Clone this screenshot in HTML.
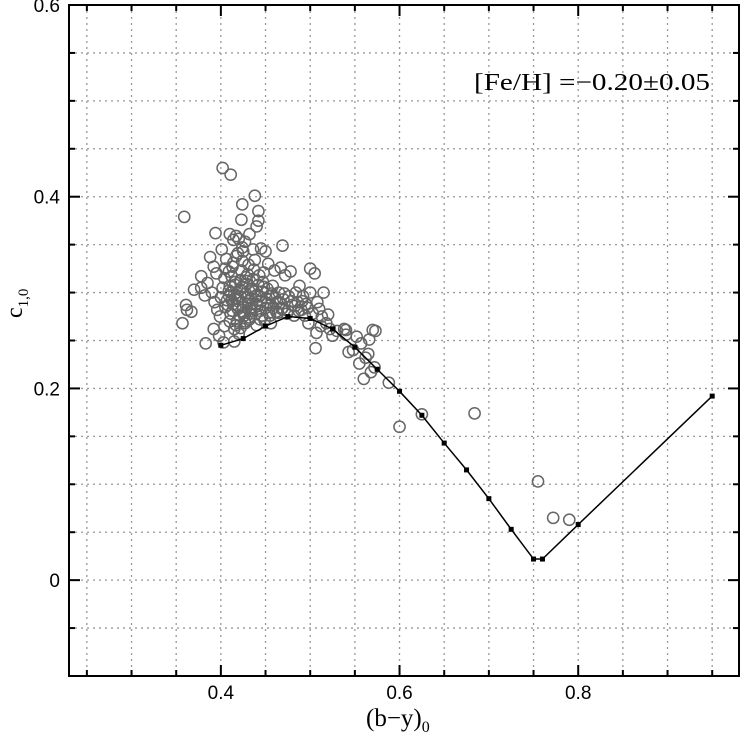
<!DOCTYPE html>
<html><head><meta charset="utf-8"><style>
body{margin:0;background:#fff;width:740px;height:736px;overflow:hidden}
svg{display:block}
text{font-family:"Liberation Sans",sans-serif;fill:#000}
</style></head><body>
<svg id="chart" width="740" height="736" viewBox="0 0 740 736">
<g id="grid"></g>
<g id="marks"></g>
<g id="axes"></g>
<text x="474" y="90" textLength="236" lengthAdjust="spacingAndGlyphs" style="font-family:'Liberation Serif',serif;font-size:24px">[Fe/H] =−0.20±0.05</text>
<text x="366" y="726" style="font-family:'Liberation Serif',serif;font-size:25px">(b−y)<tspan dy="6" font-size="16">0</tspan></text>
<text transform="translate(22,318) rotate(-90)" style="font-family:'Liberation Serif',serif;font-size:24px">c<tspan dy="6" font-size="15">1,0</tspan></text>
</svg>
<script>
const xTicks=[0.4,0.6,0.8];
const yTicks=[0,0.2,0.4,0.6];
const xTickLabels=["0.4","0.6","0.8"];
const yTickLabels=["0","0.2","0.4","0.6"];
const seqX=[0.4,0.425,0.45,0.475,0.5,0.525,0.55,0.575,0.6,0.625,0.65,0.675,0.7,0.725,0.75,0.76,0.8,0.95];
const seqY=[0.245,0.252,0.265,0.275,0.273,0.262,0.243,0.220,0.197,0.172,0.143,0.115,0.085,0.053,0.022,0.022,0.058,0.192];
const starX=[0.402,0.411,0.359,0.438,0.424,0.442,0.423,0.442,0.440,0.394,0.410,0.417,0.420,0.414,0.432,0.469,0.427,0.436,0.445,0.450,0.401,0.388,0.392,0.395,0.378,0.370,0.382,0.361,0.362,0.367,0.357,0.383,0.392,0.398,0.403,0.415,0.420,0.378,0.385,0.390,0.393,0.396,0.399,0.400,0.402,0.404,0.405,0.406,0.408,0.409,0.410,0.411,0.412,0.413,0.414,0.415,0.416,0.417,0.418,0.419,0.420,0.421,0.422,0.423,0.424,0.425,0.426,0.427,0.428,0.429,0.430,0.431,0.432,0.433,0.434,0.435,0.436,0.437,0.438,0.439,0.440,0.441,0.442,0.443,0.444,0.445,0.446,0.447,0.448,0.449,0.450,0.451,0.452,0.453,0.455,0.456,0.457,0.458,0.460,0.462,0.463,0.465,0.467,0.468,0.470,0.472,0.474,0.476,0.478,0.480,0.482,0.484,0.486,0.488,0.490,0.492,0.495,0.498,0.500,0.500,0.503,0.505,0.506,0.507,0.508,0.510,0.512,0.513,0.515,0.518,0.520,0.522,0.525,0.530,0.538,0.540,0.543,0.548,0.552,0.555,0.557,0.560,0.562,0.565,0.566,0.568,0.570,0.572,0.588,0.600,0.625,0.684,0.755,0.772,0.790,0.405,0.412,0.418,0.425,0.430,0.435,0.421,0.427,0.433,0.444,0.410,0.404,0.415,0.440,0.456,0.573,0.540,
0.407,0.409,0.413,0.416,0.419,0.422,0.424,0.426,0.428,0.431,0.434,0.437,0.441,0.443,0.446,0.448,0.452,0.454,0.457,0.459,0.461,0.464,0.466,0.469,0.471,0.475,0.479,0.483,0.487,0.491,0.494,0.497,0.409,0.414,0.419,0.424,0.429,0.434,0.439,0.417,0.422,0.427,0.432,0.411,0.416];
const starY=[0.430,0.423,0.379,0.401,0.392,0.385,0.376,0.375,0.369,0.362,0.361,0.359,0.356,0.355,0.361,0.349,0.353,0.345,0.346,0.343,0.345,0.337,0.327,0.320,0.317,0.303,0.297,0.287,0.282,0.280,0.268,0.247,0.262,0.255,0.248,0.249,0.257,0.305,0.310,0.300,0.290,0.282,0.275,0.295,0.305,0.315,0.325,0.335,0.287,0.297,0.307,0.278,0.317,0.327,0.288,0.298,0.308,0.338,0.270,0.283,0.293,0.303,0.313,0.323,0.333,0.343,0.279,0.289,0.299,0.309,0.319,0.329,0.274,0.284,0.294,0.304,0.314,0.324,0.334,0.278,0.288,0.298,0.308,0.318,0.281,0.291,0.301,0.311,0.321,0.271,0.284,0.294,0.304,0.330,0.276,0.287,0.297,0.307,0.323,0.280,0.290,0.300,0.326,0.283,0.293,0.318,0.278,0.296,0.322,0.287,0.276,0.300,0.290,0.307,0.282,0.296,0.288,0.268,0.300,0.325,0.278,0.320,0.242,0.258,0.290,0.283,0.265,0.275,0.300,0.268,0.277,0.262,0.255,0.260,0.262,0.256,0.238,0.240,0.254,0.226,0.247,0.210,0.232,0.236,0.251,0.217,0.261,0.222,0.206,0.160,0.173,0.174,0.103,0.065,0.063,0.285,0.292,0.300,0.285,0.295,0.288,0.276,0.270,0.278,0.272,0.270,0.265,0.262,0.266,0.268,0.260,0.261,
0.292,0.302,0.281,0.311,0.286,0.296,0.306,0.276,0.316,0.291,0.281,0.301,0.286,0.296,0.276,0.306,0.289,0.279,0.299,0.284,0.294,0.279,0.289,0.284,0.299,0.281,0.291,0.286,0.281,0.291,0.276,0.284,0.322,0.331,0.341,0.347,0.312,0.304,0.296,0.266,0.263,0.268,0.272,0.300,0.294];

const L=69,R=739,T=5,B=676, XMIN=0.23,XMAX=0.98,YMIN=-0.1,YMAX=0.6;
const sx=v=>L+(v-XMIN)/(XMAX-XMIN)*(R-L);
const sy=v=>B-(v-YMIN)/(YMAX-YMIN)*(B-T);
const NS="http://www.w3.org/2000/svg";
function mk(tag,attrs,parent){const e=document.createElementNS(NS,tag);for(const k in attrs)e.setAttribute(k,attrs[k]);parent.appendChild(e);return e;}
const grid=document.getElementById('grid'),marks=document.getElementById('marks'),axes=document.getElementById('axes');
for(let i=5;i<=19;i++){const v=i*0.05;const x=sx(v);
 const g=mk('line',{x1:x,x2:x,y1:T,y2:B,stroke:'#999','stroke-width':1.3,'stroke-dasharray':'2,4'},grid);
 
 
 const major=Math.abs(v*5-Math.round(v*5))<1e-6;const len=major?11:6;
 mk('line',{x1:x,x2:x,y1:B,y2:B-len,stroke:'#000','stroke-width':2},axes);
 mk('line',{x1:x,x2:x,y1:T,y2:T+len,stroke:'#000','stroke-width':2},axes);
}
for(let i=-1;i<=11;i++){const v=i*0.05;const y=sy(v);
 const g=mk('line',{x1:L,x2:R,y1:y,y2:y,stroke:'#999','stroke-width':1.3,'stroke-dasharray':'2,4'},grid);
 
 
 const major=(i%4===0);const len=major?11:6;
 mk('line',{x1:L,x2:L+len,y1:y,y2:y,stroke:'#000','stroke-width':2},axes);
 mk('line',{x1:R,x2:R-len,y1:y,y2:y,stroke:'#000','stroke-width':2},axes);
}
const frame=mk('rect',{x:L,y:T,width:R-L,height:B-T,fill:'none',stroke:'#000','stroke-width':2},axes);


xTicks.forEach((v,i)=>{const t=mk('text',{x:sx(v),y:699,'text-anchor':'middle','font-size':19},axes);t.textContent=xTickLabels[i];
 
 });
yTicks.forEach((v,i)=>{const t=mk('text',{x:60,y:sy(v)+7,'text-anchor':'end','font-size':19},axes);t.textContent=yTickLabels[i];
 
 });
starX.forEach((v,i)=>{const c=mk('circle',{cx:sx(v),cy:sy(starY[i]),r:5.6,fill:'none',stroke:'#666','stroke-width':1.5},marks);
 
 });
const pl=mk('polyline',{points:seqX.map((v,i)=>sx(v)+','+sy(seqY[i])).join(' '),fill:'none',stroke:'#000','stroke-width':1.5},marks);


seqX.forEach((v,i)=>{const s=mk('rect',{x:sx(v)-2.5,y:sy(seqY[i])-2.5,width:5,height:5,fill:'#000'},marks);
 
 });
</script>
</body></html>
